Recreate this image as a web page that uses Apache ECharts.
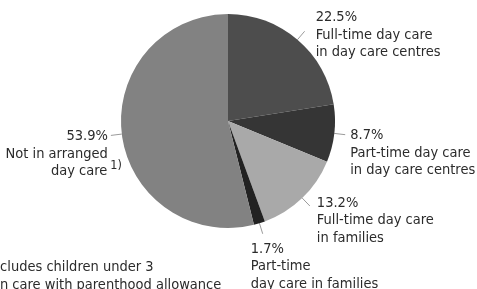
<!DOCTYPE html>
<html>
<head>
<meta charset="utf-8">
<script src="https://cdn.jsdelivr.net/npm/echarts@6/dist/echarts.min.js"></script>
<style>
html, body { margin: 0; padding: 0; background: #fff; }
#chart { width: 477px; height: 289px; }
</style>
</head>
<body>
<div id="chart"></div>
<script>
var categories = [
    'Full-time day care\nin day care centres',
    'Part-time day care\nin day care centres',
    'Full-time day care\nin families',
    'Part-time\nday care in families',
    'Not in arranged\nday care'
];
var shares = [22.5, 8.7, 13.2, 1.7, 53.9];
var notes = ['', '', '', '', '1)'];
var footnotes = ['Includes children under 3', 'Own care with parenthood allowance'];

var sliceColors = ['#4d4d4d', '#353535', '#a9a9a9', '#222222', '#828282'];
// offset of each label from the end of its leader line: dx, dy, align, verticalAlign
var labelOffsets = [
    [11, 3.5, 'left', 'middle'],
    [5, -8, 'left', 'top'],
    [7, -12, 'left', 'top'],
    [-12, 6.5, 'left', 'top'],
    [11, -7.5, 'right', 'top']
];
var font = '"DejaVu Sans Condensed", "Liberation Sans Narrow", sans-serif';
var fontSize = 14.5;

var chart = echarts.init(document.getElementById('chart'));

var pieData = categories.map(function (name, i) {
    return { name: name, value: shares[i], itemStyle: { color: sliceColors[i] } };
});

chart.setOption({
    animation: false,
    graphic: [
        {
            type: 'text', left: -12, top: 260, silent: true,
            style: { text: footnotes[0], font: fontSize + 'px ' + font, fill: '#2b2b2b' }
        },
        {
            type: 'text', left: -21, top: 278, silent: true,
            style: { text: footnotes[1], font: fontSize + 'px ' + font, fill: '#2b2b2b' }
        }
    ],
    series: [{
        type: 'pie',
        silent: true,
        center: [228, 121],
        radius: 107,
        startAngle: 90,
        clockwise: true,
        avoidLabelOverlap: false,
        minShowLabelAngle: 0,
        data: pieData,
        itemStyle: { borderWidth: 0 },
        label: {
            show: true,
            position: 'outside',
            color: '#2b2b2b',
            fontFamily: font,
            fontSize: fontSize,
            lineHeight: 17.5,
            formatter: function (p) {
                var i = p.dataIndex;
                var lines = [shares[i].toFixed(1) + '%'].concat(p.name.split('\n'));
                if (!notes[i]) return lines.join('\n');
                // keep the plain lines flush with the text before the note mark
                return lines.map(function (l, k) {
                    return k < lines.length - 1 ? '{r|' + l + '}' : l + '{s|' + notes[i] + '}';
                }).join('\n');
            },
            rich: {
                r: { fontFamily: font, fontSize: fontSize, color: '#2b2b2b', lineHeight: 17.5, padding: [0, 14, 0, 0] },
                s: { fontFamily: font, fontSize: 12.5, color: '#2b2b2b', lineHeight: 17.5, padding: [0, 0, 12, 3] }
            }
        },
        labelLine: {
            show: true,
            length: 11,
            length2: 0,
            smooth: false,
            lineStyle: { color: '#9a9a9a', width: 1 }
        },
        labelLayout: function (p) {
            var pts = p.labelLinePoints;
            var end = pts[pts.length - 1];
            var o = labelOffsets[p.dataIndex];
            return {
                x: end[0] + o[0],
                y: end[1] + o[1],
                align: o[2],
                verticalAlign: o[3],
                labelLinePoints: pts
            };
        }
    }]
});
</script>
</body>
</html>
